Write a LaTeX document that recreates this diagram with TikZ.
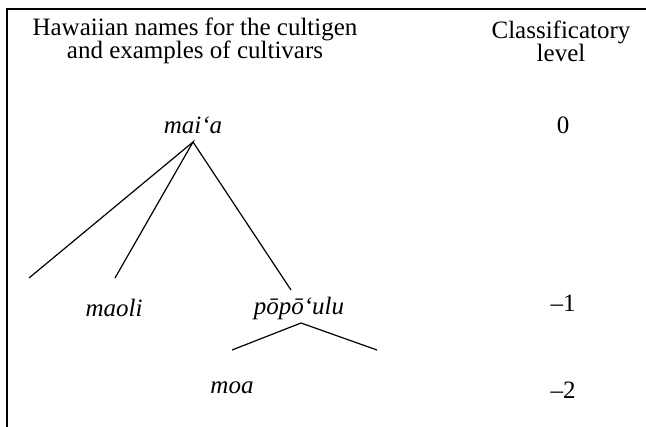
\documentclass[tikz,border=0pt]{standalone}
\usepackage{fontspec}
\setmainfont{Liberation Serif}
\begin{document}
\begin{tikzpicture}[x=0.5pt,y=-0.5pt,
  lbl/.style={inner sep=0pt,font=\fontsize{12.5}{13}\selectfont},
  nm/.style={inner sep=0pt,font=\fontsize{12.5}{13}\selectfont\itshape},
  hdr/.style={inner sep=0pt,align=center,font=\fontsize{12.5}{11.5}\selectfont},
  br/.style={line width=0.6pt}]
\useasboundingbox (0,0) rectangle (646,427);
\coordinate (tl) at (7,9);
\coordinate (tr) at (646,9);
\coordinate (bl) at (7,427);
\draw[line width=0.8pt] (tr) -- (tl) -- (bl);
\node[hdr] (h1) at (195,41) {Hawaiian names for the cultigen\\and examples of cultivars};
\node[hdr] (h2) at (561,41) {Classificatory\\level};
\node[nm] (maia) at (193,125) {mai‘a};
\node[lbl] (l0) at (563,125) {0};
\node[nm] (maoli) at (114,308) {maoli};
\node[nm] (popo) at (299,308) {pōpō‘ulu};
\node[lbl] (l1) at (563,303) {–1};
\node[nm] (moa) at (232,388) {moa};
\node[lbl] (l2) at (563,390) {–2};
\coordinate (apex) at (193,142);
\coordinate (e1) at (29,278);
\coordinate (e2) at (115,278);
\coordinate (e3) at (291,290);
\coordinate (sapex) at (301,323);
\coordinate (s1) at (232,350);
\coordinate (s2) at (377,350);
\draw[br] (e1) -- (apex) -- (e2);
\draw[br] (apex) -- (e3);
\draw[br] (s1) -- (sapex) -- (s2);
\end{tikzpicture}
\end{document}
